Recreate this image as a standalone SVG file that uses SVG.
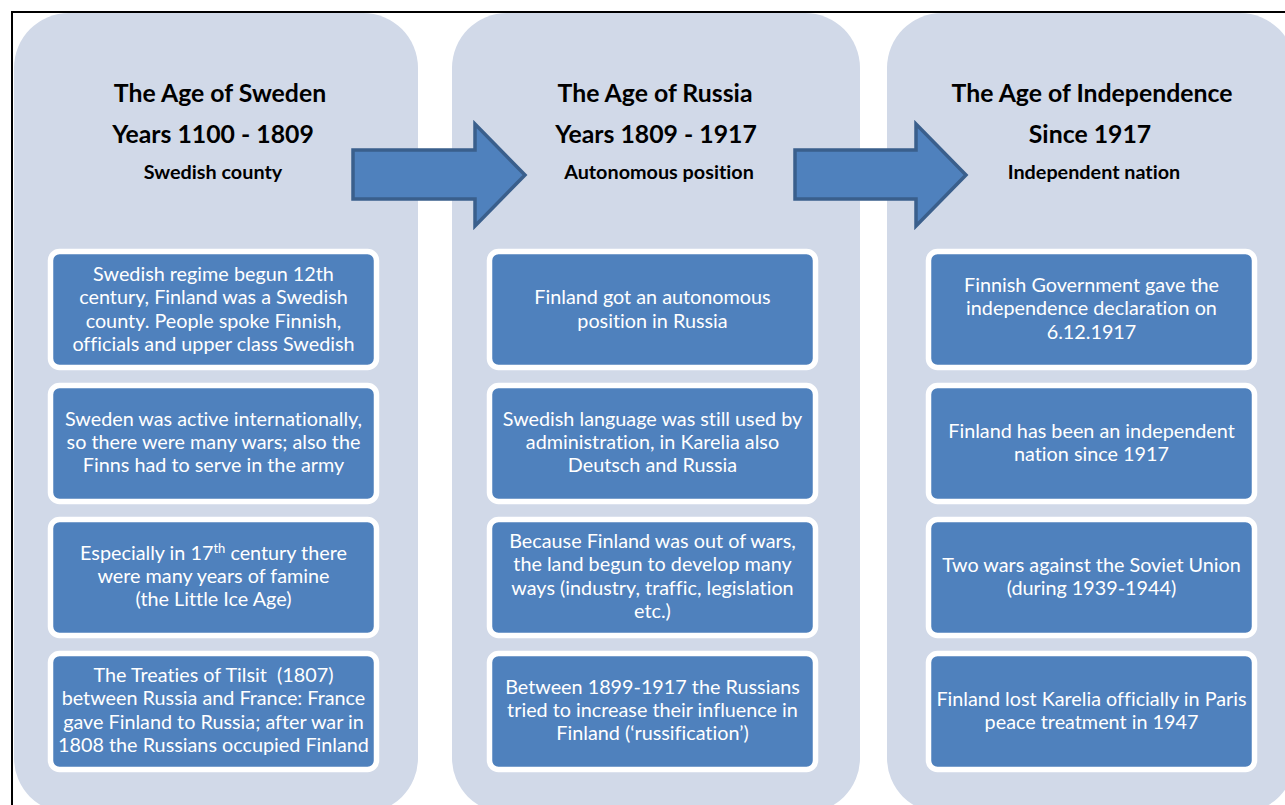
<svg xmlns="http://www.w3.org/2000/svg" width="1285" height="805" viewBox="0 0 1285 805">
<style>
.col{fill:#D1D9E8;}
.box{fill:#4F81BD;stroke:#FFFFFF;stroke-width:5.5;}
.arr{fill:#4F81BD;stroke:#3A5F8C;stroke-width:3.5;stroke-linejoin:miter;}
text{font-variant-ligatures:none;}
.t{font-family:Lato,"Liberation Sans",sans-serif;fill:#FFFFFF;font-size:19.8px;text-anchor:middle;}
.h1{font-family:Lato,"Liberation Sans",sans-serif;fill:#000000;font-size:24.8px;font-weight:bold;text-anchor:middle;}
.h2{font-family:Lato,"Liberation Sans",sans-serif;fill:#000000;font-size:19.8px;font-weight:bold;text-anchor:middle;}
.frame{stroke:#000000;stroke-width:2;fill:none;}
</style>
<rect x="0" y="0" width="1285" height="805" fill="#FFFFFF"/>
<path class="frame" d="M12,805 V12 H1285"/>

<g id="col-sweden">
<rect class="col" x="14" y="13" width="404" height="800" rx="55"/>
<text class="h1" x="220" y="102">The Age of Sweden</text>
<text class="h1" x="213" y="143">Years 1100 - 1809</text>
<text class="h2" x="213" y="179">Swedish county</text>
</g>
<g id="col-russia">
<rect class="col" x="452" y="13" width="408" height="800" rx="55"/>
<text class="h1" x="655" y="102">The Age of Russia</text>
<text class="h1" x="656" y="143">Years 1809 - 1917</text>
<text class="h2" x="659" y="179">Autonomous position</text>
</g>
<g id="col-independence">
<rect class="col" x="887" y="13" width="408" height="800" rx="55"/>
<text class="h1" x="1092" y="102">The Age of Independence</text>
<text class="h1" x="1090" y="143">Since 1917</text>
<text class="h2" x="1094" y="179">Independent nation</text>
</g>

<g id="connectors">
<path class="arr" d="M353,150 H475 V124 L525,175 L475,226 V199 H353 Z"/>
<path class="arr" d="M795,150 H916 V124 L966,175 L916,226 V199 H795 Z"/>
</g>

<g id="s1">
<rect class="box" x="50.5" y="251.5" width="326" height="116" rx="9"/>
<text class="t" x="213.5" y="281">Swedish regime begun 12th</text>
<text class="t" x="213.5" y="304.3">century, Finland was a Swedish</text>
<text class="t" x="213.5" y="327.6">county. People spoke Finnish,</text>
<text class="t" x="213.5" y="351">officials and upper class Swedish</text>
</g>
<g id="s2">
<rect class="box" x="50.5" y="385.5" width="326" height="116" rx="9"/>
<text class="t" x="213.5" y="425.7">Sweden was active internationally,</text>
<text class="t" x="213.5" y="449">so there were many wars; also the</text>
<text class="t" x="213.5" y="472.3">Finns had to serve in the army</text>
</g>
<g id="s3">
<rect class="box" x="50.5" y="519.5" width="326" height="116" rx="9"/>
<text class="t" x="213.5" y="559.7">Especially in 17<tspan font-size="13" dy="-7">th</tspan><tspan dy="7"> century there</tspan></text>
<text class="t" x="213.5" y="583">were many years of famine</text>
<text class="t" x="213.5" y="606.3">(the Little Ice Age)</text>
</g>
<g id="s4">
<rect class="box" x="50.5" y="653.5" width="326" height="116" rx="9"/>
<text class="t" x="213.5" y="682" xml:space="preserve">The Treaties of Tilsit  (1807)</text>
<text class="t" x="213.5" y="705.3">between Russia and France: France</text>
<text class="t" x="213.5" y="728.6">gave Finland to Russia; after war in</text>
<text class="t" x="213.5" y="752">1808 the Russians occupied Finland</text>
</g>

<g id="r1">
<rect class="box" x="489.5" y="251.5" width="326" height="116" rx="9"/>
<text class="t" x="652.5" y="304.3">Finland got an autonomous</text>
<text class="t" x="652.5" y="327.6">position in Russia</text>
</g>
<g id="r2">
<rect class="box" x="489.5" y="385.5" width="326" height="116" rx="9"/>
<text class="t" x="652.5" y="425.7">Swedish language was still used by</text>
<text class="t" x="652.5" y="449">administration, in Karelia also</text>
<text class="t" x="652.5" y="472.3">Deutsch and Russia</text>
</g>
<g id="r3">
<rect class="box" x="489.5" y="519.5" width="326" height="116" rx="9"/>
<text class="t" x="652.5" y="548">Because Finland was out of wars,</text>
<text class="t" x="652.5" y="571.3">the land begun to develop many</text>
<text class="t" x="652.5" y="594.6">ways (industry, traffic, legislation</text>
<text class="t" x="652.5" y="618">etc.)</text>
</g>
<g id="r4">
<rect class="box" x="489.5" y="653.5" width="326" height="116" rx="9"/>
<text class="t" x="652.5" y="693.7">Between 1899-1917 the Russians</text>
<text class="t" x="652.5" y="717">tried to increase their influence in</text>
<text class="t" x="652.5" y="740.3">Finland (‘russification’)</text>
</g>

<g id="i1">
<rect class="box" x="928.5" y="251.5" width="326" height="116" rx="9"/>
<text class="t" x="1091.5" y="292">Finnish Government gave the</text>
<text class="t" x="1091.5" y="315.3">independence declaration on</text>
<text class="t" x="1091.5" y="338.6">6.12.1917</text>
</g>
<g id="i2">
<rect class="box" x="928.5" y="385.5" width="326" height="116" rx="9"/>
<text class="t" x="1091.5" y="437.5">Finland has been an independent</text>
<text class="t" x="1091.5" y="460.8">nation since 1917</text>
</g>
<g id="i3">
<rect class="box" x="928.5" y="519.5" width="326" height="116" rx="9"/>
<text class="t" x="1091.5" y="571.5">Two wars against the Soviet Union</text>
<text class="t" x="1091.5" y="594.8">(during 1939-1944)</text>
</g>
<g id="i4">
<rect class="box" x="928.5" y="653.5" width="326" height="116" rx="9"/>
<text class="t" x="1091.5" y="705.5">Finland lost Karelia officially in Paris</text>
<text class="t" x="1091.5" y="728.8">peace treatment in 1947</text>
</g>
</svg>
